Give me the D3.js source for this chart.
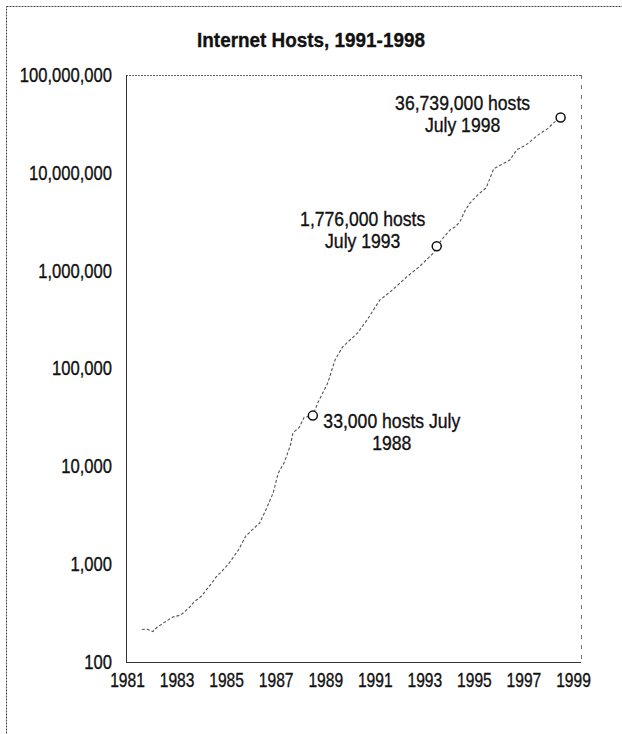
<!DOCTYPE html>
<html><head><meta charset="utf-8">
<script src="https://cdn.jsdelivr.net/npm/d3@7"></script>
<style>
body{margin:0;background:#fff}
text{font-family:"Liberation Sans",Arial,sans-serif;fill:#111;stroke:#111;stroke-width:0.35px}
</style>
</head><body><svg id="c" width="622" height="734"></svg>
<script>
// ---- data ----
const years = [1981.6,1981.8,1982.05,1982.2,1982.6,1982.85,1983.17,1983.5,1983.7,1984.0,1984.2,1984.4,1984.6,1984.95,1985.15,1985.5,1985.8,1986.35,1986.6,1986.9,1987.1,1987.35,1987.6,1987.7,1987.95,1988.15,1988.5,1988.7,1989.1,1989.4,1989.7,1990.3,1990.7,1991.2,1991.7,1992.3,1992.8,1993.35,1993.5,1993.8,1994.04,1994.24,1994.44,1994.64,1994.84,1995.16,1995.5,1995.8,1996.45,1996.73,1997.05,1997.26,1997.54,1997.78,1997.98,1998.18,1998.5];
const hosts = [215,217,205,225,263,288,302,357,410,470,545,630,740,910,1050,1400,1950,2630,3570,5350,8500,11000,16600,22000,25000,31700,33000,44600,71000,123000,166000,230000,316000,500000,630000,870000,1100000,1500000,1776000,2220000,2610000,2800000,3170000,4100000,4900000,5960000,7050000,11000000,13500000,17200000,18900000,20700000,23900000,26300000,28300000,31900000,36739000];
const yTicks = [100,1000,10000,100000,1000000,10000000,100000000];
const xTicks = [1981,1983,1985,1987,1989,1991,1993,1995,1997,1999];
const annYears = [1988.5,1993.5,1998.5];
const annHosts = [33000,1776000,36739000];
const annLines = [["33,000 hosts July","1988"],["1,776,000 hosts","July 1993"],["36,739,000 hosts","July 1998"]];
const title = "Internet Hosts, 1991-1998";

// ---- layout ----
const svg = d3.select("#c");
const L=126, R=581, T=75, B=662;
const x = d3.scaleLinear().domain([1981,1999]).range([127,573]);
const y = d3.scaleLog().domain([100,100000000]).range([B,T]);
const kX = 0.78, kY = 0.83, kAnn = 0.88, kTitle = 0.9;

function narrow(sel, px, k){ return sel.attr("x", px/k).attr("transform", `scale(${k},1)`); }

// outer frame (left and top visible)
svg.append("rect").attr("x",6.5).attr("y",6.5).attr("width",640).attr("height",760)
  .attr("fill","none").attr("stroke","#444").attr("stroke-width",1).attr("stroke-dasharray","2,1");

narrow(svg.append("text").attr("y",47).attr("text-anchor","middle")
  .attr("font-size",21).attr("font-weight","bold").text(title), 311, kTitle);

// plot frame
const fr = svg.append("g");
fr.append("line").attr("x1",L).attr("x2",R).attr("y1",T+0.5).attr("y2",T+0.5).attr("stroke","#666").attr("stroke-dasharray","2,1");
fr.append("line").attr("x1",R+0.5).attr("x2",R+0.5).attr("y1",T).attr("y2",B).attr("stroke","#777").attr("stroke-dasharray","4,6");
fr.append("line").attr("x1",L).attr("x2",R).attr("y1",B+0.5).attr("y2",B+0.5).attr("stroke","#333");
fr.append("line").attr("x1",L+0.5).attr("x2",L+0.5).attr("y1",T).attr("y2",B).attr("stroke","#333");

// axes
const ya = svg.append("g").attr("transform",`translate(${L},0)`)
  .call(d3.axisLeft(y).tickValues(yTicks).tickFormat(d3.format(",")).tickSize(0).tickPadding(14));
ya.select(".domain").remove();
ya.selectAll("text").attr("font-size",20).attr("font-family",null).attr("fill","#111")
  .attr("x",-14/kY).attr("transform",`scale(${kY},1)`);
const xa = svg.append("g").attr("transform",`translate(0,${B})`)
  .call(d3.axisBottom(x).tickValues(xTicks).tickFormat(d3.format("d")).tickSize(0).tickPadding(11));
xa.select(".domain").remove();
xa.selectAll("text").attr("font-size",20).attr("font-family",null).attr("fill","#111")
  .attr("transform",`scale(${kX},1)`);

// line
const pts = years.map((d,i)=>[d,hosts[i]]);
svg.append("path").datum(pts)
  .attr("d", d3.line().x(d=>x(d[0])).y(d=>y(d[1])))
  .attr("fill","none").attr("stroke","#555").attr("stroke-width",1.1).attr("stroke-dasharray","3,2");

// annotations
const offs = [[79,12],[-74,-20],[-98,-8]];
annYears.forEach((yr,i)=>{
  const cx=x(yr), cy=y(annHosts[i]);
  svg.append("circle").attr("cx",cx).attr("cy",cy).attr("r",4.5)
    .attr("fill","#fff").attr("stroke","#111").attr("stroke-width",1.5);
  annLines[i].forEach((s,j)=>{
    narrow(svg.append("text").attr("y",cy+offs[i][1]+j*22)
      .attr("text-anchor","middle").attr("font-size",20).text(s), cx+offs[i][0], kAnn);
  });
});
</script></body></html>
